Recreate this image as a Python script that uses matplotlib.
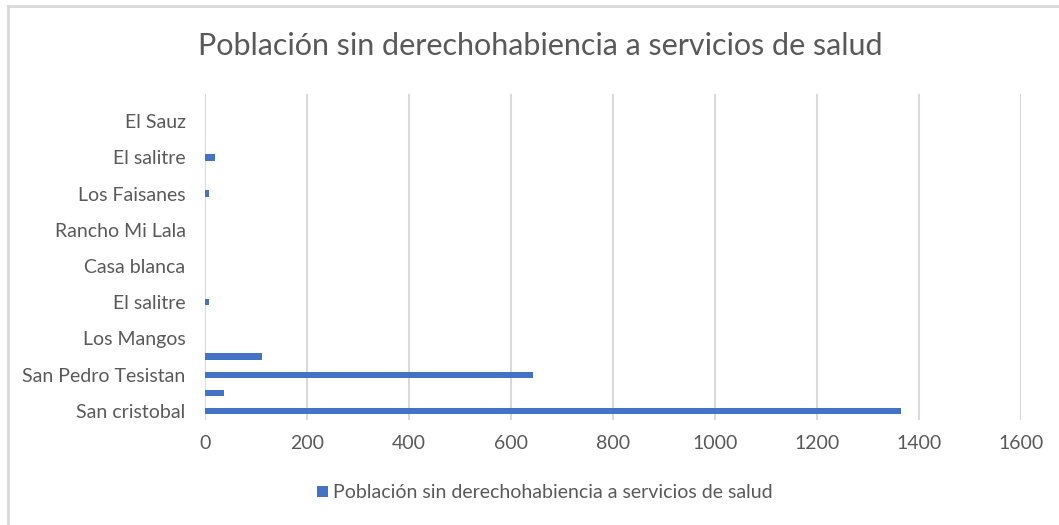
import matplotlib
matplotlib.use('Agg')
import matplotlib.pyplot as plt
from matplotlib.lines import Line2D

# datos (de abajo hacia arriba, como en Excel)
localidades = ['San cristobal', '', 'San Pedro Tesistan', '', 'Los Mangos', '',
               'El salitre', '', 'Casa blanca', '', 'Rancho Mi Lala', '',
               'Los Faisanes', '', 'El salitre', '', 'El Sauz', '']
poblacion = [1364, 38, 644, 111, 0, 0, 8, 0, 0, 0, 0, 0, 8, 0, 20, 0, 0, 0]
titulo = 'Población sin derechohabiencia a servicios de salud'
xticks = [0, 200, 400, 600, 800, 1000, 1200, 1400, 1600]

gris = '#595959'
plt.rcParams['font.family'] = ['Lato', 'DejaVu Sans']

fig = plt.figure(figsize=(10.59, 5.25), dpi=100)
ax = fig.add_axes([205/1059, 1 - 420/525, (1021-205)/1059, (420-94)/525])

pos = list(range(len(localidades)))
ax.barh(pos, poblacion, height=0.35, color='#4472C4', zorder=3, label=titulo)

ax.set_xlim(0, 1600)
ax.set_ylim(-0.5, len(localidades) - 0.5)
ax.set_xticks(xticks)
ax.set_xticklabels([str(v) for v in xticks], color=gris, fontsize=14)
ax.set_yticks(pos)
ax.set_yticklabels(localidades, color=gris, fontsize=14)
ax.tick_params(length=0)
ax.tick_params(axis='y', pad=14)
ax.tick_params(axis='x', pad=11)
ax.grid(axis='x', color='#D9D9D9', linewidth=1.5, zorder=0)
for s in ax.spines.values():
    s.set_visible(False)

fig.text(540/1059, 1 - 46/525, titulo, ha='center', va='center', fontsize=22, color=gris)

fig.legend(loc='center', bbox_to_anchor=(545/1059, 1 - 493/525), frameon=False,
           fontsize=14, labelcolor=gris, handlelength=0.55, handleheight=0.55,
           handletextpad=0.3)

# marco del grafico
fig.add_artist(Line2D([8/1059, 8/1059], [0, 1 - 6/525], color='#D9D9D9', lw=2, transform=fig.transFigure))
fig.add_artist(Line2D([8/1059, 1], [1 - 6/525, 1 - 6/525], color='#D9D9D9', lw=2, transform=fig.transFigure))

fig.savefig('out.png', dpi=100)
